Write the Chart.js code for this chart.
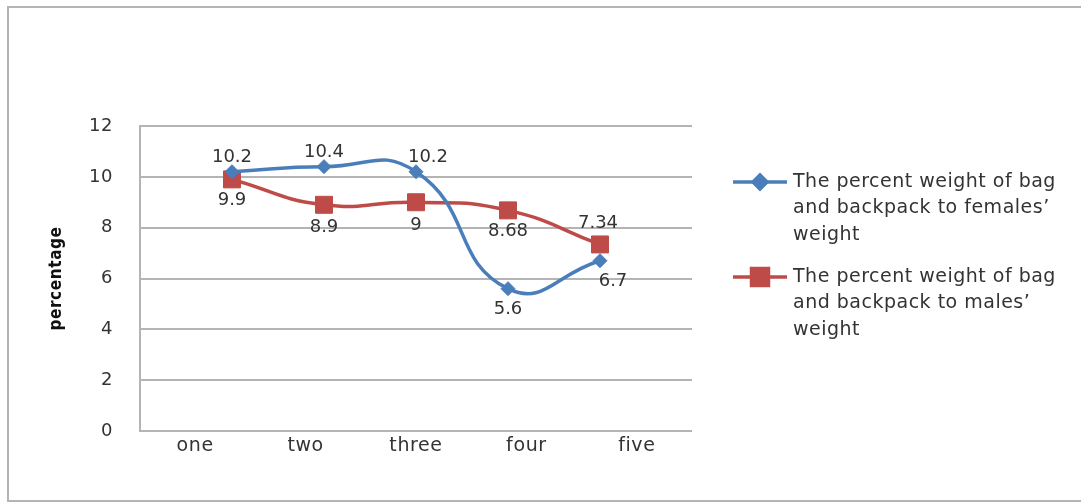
<!DOCTYPE html>
<html>
<head>
<meta charset="utf-8">
<script src="https://cdn.jsdelivr.net/npm/chart.js@4.4.1/dist/chart.umd.min.js"></script>
<style>
  html, body { margin: 0; padding: 0; background: #fff; overflow: hidden; }
  .frame { position: absolute; left: 7px; top: 6px; width: 1200px; height: 492px; border: 2px solid #b4b4b4; }
  #wrap { position: absolute; left: 0; top: 0; width: 1081px; height: 504px; }
</style>
</head>
<body>
<div class="frame"></div>
<div id="wrap"><canvas id="chart"></canvas></div>
<script>
// groups along the x axis
const categories = ['one', 'two', 'three', 'four', 'five'];
// percent weight of bag and backpack to body weight
const femaleValues = [10.2, 10.4, 10.2, 5.6, 6.7];
const maleValues = [9.9, 8.9, 9, 8.68, 7.34];
const yTicks = [0, 2, 4, 6, 8, 10, 12];
const femaleLegend = ['The percent weight of bag', 'and backpack to females\u2019', 'weight'];
const maleLegend = ['The percent weight of bag', 'and backpack to males\u2019', 'weight'];

const BLUE = '#4a7ebb';
const RED = '#be4b48';
const TEXT = '#333333';
const GRID = '#b4b4b4';

// points sit on a hidden linear axis, 1..5 out of 0..6
const toPoints = vals => vals.map((v, i) => ({ x: i + 1, y: v }));

// axis text is a little wider spaced than the font itself
const wideAxisText = {
  id: 'wideAxisText',
  beforeDraw(chart) { chart.ctx.letterSpacing = '0.6px'; },
  beforeDatasetsDraw(chart) { chart.ctx.letterSpacing = '0px'; }
};

// value labels next to each point
const valueLabels = {
  id: 'valueLabels',
  afterDatasetsDraw(chart, args, opts) {
    const ctx = chart.ctx;
    ctx.save();
    ctx.font = opts.font;
    ctx.fillStyle = opts.color;
    ctx.textAlign = 'center';
    ctx.textBaseline = 'middle';
    chart.data.datasets.forEach((ds, di) => {
      const meta = chart.getDatasetMeta(di);
      const place = opts.place[di];
      meta.data.forEach((pt, i) => {
        const p = place[i];
        ctx.fillText(String(ds.data[i].y), pt.x + p[0], pt.y + p[1]);
      });
    });
    ctx.restore();
  }
};

// legend on the right with wrapped text
const sideLegend = {
  id: 'sideLegend',
  afterDraw(chart, args, opts) {
    const ctx = chart.ctx;
    ctx.save();
    chart.data.datasets.forEach((ds, i) => {
      const y = opts.top[i];
      ctx.strokeStyle = ds.borderColor;
      ctx.lineWidth = 3.5;
      ctx.beginPath();
      ctx.moveTo(opts.x, y);
      ctx.lineTo(opts.x + opts.lineLength, y);
      ctx.stroke();
      ctx.fillStyle = ds.backgroundColor;
      ctx.strokeStyle = ds.borderColor;
      Chart.helpers.drawPoint(ctx, {
        pointStyle: ds.pointStyle, radius: ds.pointRadius, borderWidth: 1, rotation: 0
      }, opts.x + opts.lineLength / 2, y);
      ctx.font = opts.font;
      ctx.fillStyle = opts.color;
      ctx.textAlign = 'left';
      ctx.textBaseline = 'middle';
      ctx.letterSpacing = opts.spacing;
      opts.lines[i].forEach((t, k) => {
        ctx.fillText(t, opts.x + opts.lineLength + 6, y + k * opts.lineHeight);
      });
      ctx.letterSpacing = '0px';
    });
    ctx.restore();
  }
};

new Chart(document.getElementById('chart'), {
  type: 'line',
  data: {
    labels: categories,
    datasets: [{
      label: femaleLegend.join(' '),
      data: toPoints(femaleValues),
      xAxisID: 'xd',
      borderColor: BLUE,
      backgroundColor: BLUE,
      borderWidth: 3.5,
      tension: 0.5,
      pointStyle: 'rectRot',
      pointRadius: 7,
      pointBorderWidth: 1
    }, {
      label: maleLegend.join(' '),
      data: toPoints(maleValues),
      xAxisID: 'xd',
      borderColor: RED,
      backgroundColor: RED,
      borderWidth: 3.5,
      tension: 0.5,
      pointStyle: 'rect',
      pointRadius: 12,
      pointBorderWidth: 1
    }]
  },
  options: {
    responsive: true,
    maintainAspectRatio: false,
    animation: false,
    layout: { padding: { left: 0, top: 126, right: 389, bottom: 0 } },
    plugins: {
      legend: { display: false },
      tooltip: { enabled: false },
      valueLabels: {
        font: '18px "DejaVu Sans"',
        color: TEXT,
        place: [
          [[0, -14], [0, -14], [12, -14], [0, 21], [13, 21]],
          [[0, 21], [0, 23], [0, 23], [0, 21], [-2, -21]]
        ]
      },
      sideLegend: {
        x: 733,
        lineLength: 54,
        top: [182, 277],
        lineHeight: 26.5,
        font: '19px "DejaVu Sans"',
        spacing: '0.5px',
        color: TEXT,
        lines: [femaleLegend, maleLegend]
      }
    },
    scales: {
      x: {
        type: 'category',
        offset: true,
        grid: { display: false, drawTicks: false },
        border: { display: false },
        ticks: { color: TEXT, font: { family: 'DejaVu Sans', size: 19 }, padding: 4 },
        afterFit: s => { s.height = 73; }
      },
      xd: {
        type: 'linear',
        display: false,
        min: 0,
        max: 6
      },
      y: {
        min: 0,
        max: 12,
        afterBuildTicks: s => { s.ticks = yTicks.map(v => ({ value: v })); },
        grid: { color: GRID, lineWidth: 2, drawTicks: false },
        border: { display: true, color: GRID, width: 2 },
        ticks: { color: TEXT, font: { family: 'DejaVu Sans', size: 18 }, padding: 27 },
        title: {
          display: true,
          text: 'percentage',
          color: '#111',
          font: { family: 'DejaVu Sans Condensed', size: 17, weight: 'bold' },
          padding: { top: 46, bottom: 0 }
        },
        afterFit: s => { s.width = 140; }
      }
    }
  },
  plugins: [wideAxisText, valueLabels, sideLegend]
});
</script>
</body>
</html>
